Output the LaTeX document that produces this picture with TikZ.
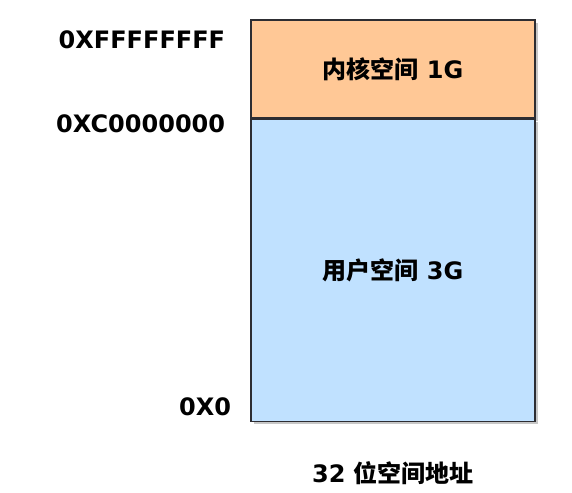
\documentclass[tikz,border=0pt]{standalone}
\usepackage{fontspec}
\setmainfont{DejaVu Sans}
\newfontfamily\cjk{Noto Sans CJK SC}
\usetikzlibrary{positioning,shadows}
\definecolor{kernelc}{RGB}{255,200,150}
\definecolor{userc}{RGB}{192,225,255}
\definecolor{edgec}{RGB}{45,45,50}
\tikzset{
  region/.style={draw=edgec, line width=1.4pt, minimum width=284pt, inner sep=0pt,
    drop shadow={shadow xshift=3pt, shadow yshift=-3pt, fill=black!22, opacity=1},
    font=\fontsize{24}{28}\selectfont\bfseries},
  addr/.style={anchor=east, inner sep=0pt, font=\fontsize{24}{28}\selectfont\bfseries}
}
\begin{document}
\begin{tikzpicture}[x=1pt,y=1pt]
  \useasboundingbox (0,0) rectangle (572,492);
  % the two parts of the address space
  \node[region, fill=kernelc, minimum height=98pt] (kernel) at (393,423)
    {{\cjk 内核空间} 1G};
  \node[region, fill=userc, minimum height=302pt, below=0pt of kernel] (user)
    {{\cjk 用户空间} 3G};
  % addresses
  \node[addr] (top) at ([xshift=-25pt,yshift=-20pt]kernel.north west) {0XFFFFFFFF};
  \node[addr] (mid) at ([xshift=-25pt,yshift=-5pt]user.north west) {0XC0000000};
  \node[addr] (low) at ([xshift=-19pt,yshift=15pt]user.south west) {0X0};
  % caption
  \node[font=\fontsize{24}{28}\selectfont\bfseries, below=36pt of user] (caption)
    {32 {\cjk 位空间地址}};
\end{tikzpicture}
\end{document}
